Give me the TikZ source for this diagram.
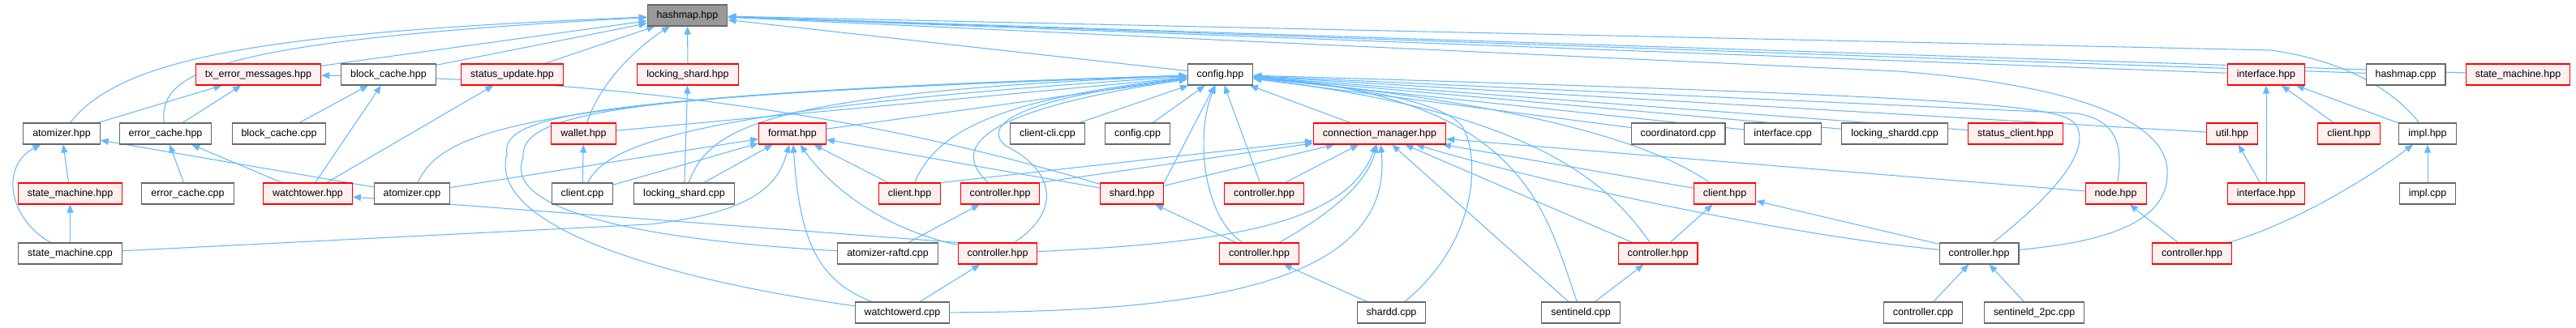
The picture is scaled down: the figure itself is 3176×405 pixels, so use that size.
\documentclass[tikz,border=0pt]{standalone}
\usepackage{fontspec}
\setmainfont{Liberation Sans}
\usepackage{tikz}
\usetikzlibrary{arrows.meta,backgrounds}
\definecolor{depblue}{HTML}{63B8FF}
\definecolor{hdrfill}{HTML}{FFF0F0}
\definecolor{boxgray}{HTML}{666666}
\definecolor{rootfill}{HTML}{999999}
\tikzset{
  file/.style ={rectangle, draw=boxgray, fill=white, line width=0.6pt,
                minimum height=0.52cm, inner xsep=0.23cm, inner ysep=0pt,
                font=\fontsize{7.1}{8.5}\selectfont},
  hdr/.style  ={file, draw=red, fill=hdrfill},
  root/.style ={file, fill=rootfill},
  % one include relation, arrow points at the included file
  dep/.style  ={draw=depblue, line width=0.6pt,
                -{Triangle[length=0.2cm,width=0.16cm]}},
}
\def\hashdeps{txerr/hmh, bch/hmh, stup/hmh, lsh/hmh, cfg/hmh, ifh/hmh, hmc/hmh, smh/hmh}
\def\leftdeps{atzh/txerr, ech/txerr, bcc/bch, wth/bch, wth/stup, lsc/lsh, wth/ech,
              ecc/ech, atzc/atzh, smh2/atzh, smc/smh2, clc/wal, atzc/fmt, clc/fmt,
              lsc/fmt, clA/fmt, shd/fmt, ctC.north west/wth}
\def\cfgdeps{fmt/cfg, wal/cfg, cli/cfg, cfgc/cfg, shd.north east/cfg, ctB/cfg, cm/cfg,
             coord/cfg, ifc/cfg, lsdc/cfg, stcl/cfg, util/cfg}
\def\cmdeps{clA.north east/cm, ctA.north east/cm, shd/cm, ctB/cm, sen/cm, ctE/cm,
            clB/cm, nod/cm}
\def\lowdeps{ctD/shd, araft/ctA, wtd/ctC, sdd/ctD, sen/ctE, ctE/clB, ctF/clB,
             ifh2/ifh, clih/ifh, imph/ifh, ifh2/util, impc/imph, ctG/nod,
             ctcpp/ctF, sen2/ctF}

\begin{document}
\begin{tikzpicture}[x=0.02cm,y=-0.02cm]
\useasboundingbox (0,0) rectangle (3176,405);
\node[root] (hmh) at (847.5,19) {hashmap.hpp};
\foreach \n/\x/\y/\lbl in {%
   bch/479/92/block\_cache.hpp, cfg/1504.5/92/config.hpp, hmc/2966/92/hashmap.cpp,
   atzh/76/165/atomizer.hpp, ech/204/165/error\_cache.hpp, bcc/344/165/block\_cache.cpp,
   cli/1291.5/165/client-cli.cpp, cfgc/1402.5/165/config.cpp,
   coord/2069/165/coordinatord.cpp, ifc/2198/165/interface.cpp,
   lsdc/2336/165/locking\_shardd.cpp, imph/2993/165/impl.hpp,
   ecc/231.5/239/error\_cache.cpp, atzc/508/239/atomizer.cpp, clc/718/239/client.cpp,
   lsc/843.5/239/locking\_shard.cpp, impc/2993/239/impl.cpp,
   smc/86.5/313/state\_machine.cpp, araft/1094.5/313/atomizer-raftd.cpp,
   ctF/2440/313/controller.hpp,
   wtd/1112.5/386/watchtowerd.cpp, sdd/1715.5/386/shardd.cpp, sen/1949/386/sentineld.cpp,
   ctcpp/2371/386/controller.cpp, sen2/2508/386/sentineld\_2pc.cpp}
  {\node[file] (\n) at (\x,\y) {\lbl};}
\foreach \n/\x/\y/\lbl in {%
   txerr/318.5/92/tx\_error\_messages.hpp, stup/631.5/92/status\_update.hpp,
   lsh/848/92/locking\_shard.hpp, ifh/2794/92/interface.hpp,
   smh/3104.5/92/state\_machine.hpp,
   wal/719.5/165/wallet.hpp, fmt/977/165/format.hpp, cm/1701/165/connection\_manager.hpp,
   stcl/2485/165/status\_client.hpp, util/2752/165/util.hpp, clih/2896/165/client.hpp,
   smh2/86.5/239/state\_machine.hpp, wth/379.5/239/watchtower.hpp,
   clA/1121.5/239/client.hpp, ctA/1233/239/controller.hpp, shd/1395.5/239/shard.hpp,
   ctB/1558.5/239/controller.hpp, clB/2126.5/239/client.hpp, nod/2608.5/239/node.hpp,
   ifh2/2794/239/interface.hpp,
   ctC/1230/313/controller.hpp, ctD/1552.5/313/controller.hpp,
   ctE/2044/313/controller.hpp, ctG/2702.5/313/controller.hpp}
  {\node[hdr] (\n) at (\x,\y) {\lbl};}
\begin{scope}[on background layer]
  \foreach \a/\b in \hashdeps {\draw[dep] (\a) -- (\b);}
  \foreach \a/\b in \leftdeps {\draw[dep] (\a) -- (\b);}
  \foreach \a/\b in \cfgdeps  {\draw[dep] (\a) -- (\b);}
  \foreach \a/\b in \cmdeps   {\draw[dep] (\a) -- (\b);}
  \foreach \a/\b in \lowdeps  {\draw[dep] (\a) -- (\b);}
  % bent ones into hashmap.hpp
  \draw[dep] (atzh) .. controls (150,70) and (330,40) .. (hmh);
  \draw[dep] (ech) .. controls (195,90) and (260,50) .. (hmh);
  \draw[dep] (wal) .. controls (740,100) and (790,55) .. (hmh);
  \draw[dep] (imph) .. controls (2950,110) and (2890,75) .. (2800,62) -- (hmh);
  \draw[dep] (ctF) .. controls (2580,300) and (2672,280) .. (2672,215)
                   .. controls (2675,150) and (2560,105) .. (2340,88) -- (hmh);
  \draw[dep] (smc) .. controls (10,270) and (0,205) .. (atzh);
  \draw[dep] (shd) .. controls (1180,175) and (880,100) .. (txerr);
  % bent ones into config.hpp
  \draw[dep] (atzc) .. controls (545,165) and (620,118) .. (cfg);
  \draw[dep] (clc) .. controls (745,185) and (820,135) .. (cfg);
  \draw[dep] (lsc) .. controls (875,160) and (930,115) .. (cfg);
  \draw[dep] (wtd) .. controls (820,345) and (600,280) .. (625,190)
                   .. controls (615,140) and (750,118) .. (cfg);
  \draw[dep] (araft) .. controls (850,300) and (615,270) .. (645,195)
                     .. controls (640,140) and (760,115) .. (cfg);
  \draw[dep] (clA) .. controls (1150,175) and (1200,125) .. (cfg);
  \draw[dep] (ctA) .. controls (1180,190) and (1180,140) .. (cfg);
  \draw[dep] (ctC) .. controls (1310,260) and (1300,210) .. (1240,180)
                   .. controls (1215,160) and (1230,125) .. (cfg);
  \draw[dep] (ctD) .. controls (1480,265) and (1475,160) .. (cfg);
  \draw[dep] (sdd) .. controls (1820,300) and (1825,200) .. (1805,160)
                   .. controls (1790,130) and (1700,110) .. (cfg);
  \draw[dep] (sen) .. controls (1905,260) and (1880,120) .. (cfg);
  \draw[dep] (ctE) .. controls (1985,230) and (1900,140) .. (cfg);
  \draw[dep] (clB) .. controls (2030,170) and (1850,125) .. (cfg);
  \draw[dep] (nod) .. controls (2618,180) and (2610,148) .. (2560,140) -- (cfg);
  \draw[dep] (ctF) .. controls (2520,250) and (2580,190) .. (2560,155)
                   .. controls (2545,130) and (2450,120) .. (cfg);
  % bent ones into format.hpp
  \draw[dep] (smc) -- (800,277) .. controls (935,262) and (960,225) .. (fmt);
  \draw[dep] (wtd) .. controls (1000,345) and (985,280) .. (fmt);
  \draw[dep] (ctC) .. controls (1100,285) and (1030,240) .. (fmt);
  % bent ones into connection_manager.hpp
  \draw[dep] (ctC) .. controls (1500,300) and (1660,280) .. (cm);
  \draw[dep] (ctD) .. controls (1630,270) and (1685,230) .. (cm);
  \draw[dep] (wtd) .. controls (1450,385) and (1720,360) .. (cm);
  \draw[dep] (ctF) .. controls (2200,290) and (1900,225) .. (cm);
  \draw[dep] (ctG) .. controls (2830,275) and (2920,220) .. (imph);
\end{scope}
\end{tikzpicture}
\end{document}
